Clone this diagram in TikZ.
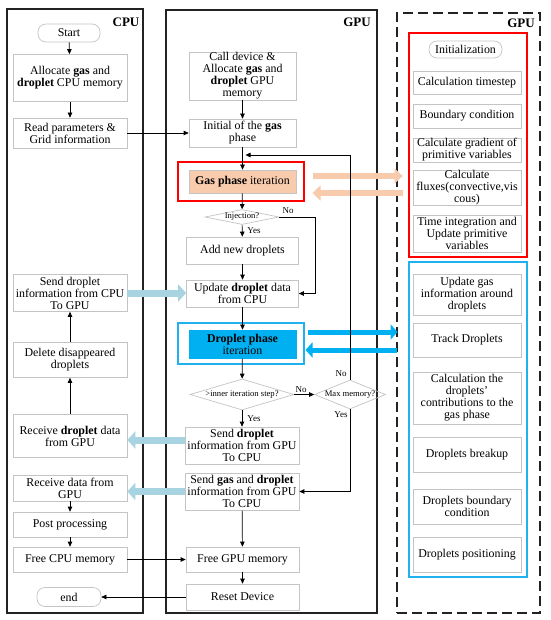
\documentclass[tikz,border=0pt]{standalone}
\usepackage{fontspec}
\setmainfont{Liberation Serif}
\usetikzlibrary{arrows.meta,shapes.geometric,calc}
\definecolor{bxgray}{HTML}{C4C4C4}
\definecolor{peach}{HTML}{F8CBAD}
\definecolor{dblue}{HTML}{00B0F0}
\definecolor{lblue}{HTML}{A8D4E2}
\definecolor{fblue}{HTML}{1FB2EE}
\definecolor{framec}{HTML}{222222}
\begin{document}
\begin{tikzpicture}[x=1pt,y=-1pt,
  bx/.style={draw=bxgray, line width=0.7pt, align=center, inner sep=0pt,
    font=\fontsize{11.9}{12}\selectfont},
  rbx/.style={bx, rounded corners=8pt},
  dia/.style={diamond, draw=bxgray, line width=0.7pt, inner sep=0pt,
    font=\fontsize{8.6}{9}\selectfont},
  frame/.style={draw=framec, line width=1.1pt, inner sep=0pt},
  hd/.style={font=\fontsize{13}{14}\selectfont\bfseries, inner sep=0pt},
  lbl/.style={font=\fontsize{9}{10}\selectfont, inner sep=0pt},
  ar/.style={line width=0.7pt, -{Triangle[length=5pt,width=4.5pt]}},
  lbar/.style={draw=lblue, line width=7pt, -{Triangle[length=8pt,width=17pt]}},
  pchar/.style={draw=peach, line width=5.5pt, -{Triangle[length=8pt,width=15pt]}},
  bluar/.style={draw=dblue, line width=5pt, -{Triangle[length=7pt,width=15pt]}}
]
\useasboundingbox[fill=white] (0,0) rectangle (550,620);

% outer frames
\node[frame, minimum width=136, minimum height=604] (cpuframe) at (75,311) {};
\node[frame, minimum width=211, minimum height=603] (gpuframe) at (271.5,311.5) {};
\node[frame, dash pattern=on 10pt off 5pt, line width=1.3pt, minimum width=143, minimum height=600] (dframe) at (468.5,313) {};
\node[hd] (cpuh) at (126,22) {CPU};
\node[hd] (gpuh) at (357,22) {GPU};
\node[hd] (gpuh2) at (521,23) {GPU};

% CPU column
\node[rbx, minimum width=62, minimum height=18] (start) at (69,33) {Start};
\node[bx, minimum width=114, minimum height=47] (cpuA) at (70,78) {Allocate \textbf{gas} and\\\textbf{droplet} CPU memory};
\node[bx, minimum width=114, minimum height=30] (cpuR) at (70,133) {Read parameters \&\\Grid information};
\node[bx, minimum width=114, minimum height=37] (cpuS) at (70,293) {Send droplet\\information from CPU\\To GPU};
\node[bx, minimum width=114, minimum height=35] (cpuD) at (70,360) {Delete disappeared\\droplets};
\node[bx, minimum width=114, minimum height=43] (cpuRv) at (70,436) {Receive \textbf{droplet} data\\from GPU};
\node[bx, minimum width=114, minimum height=26] (cpuRd) at (70,488) {Receive data from\\GPU};
\node[bx, minimum width=114, minimum height=25] (cpuP) at (70,524.5) {Post processing};
\node[bx, minimum width=114, minimum height=25] (cpuF) at (70,559.5) {Free CPU memory};
\node[rbx, minimum width=64, minimum height=19] (end) at (69,597) {end};

% GPU column
\node[bx, minimum width=107, minimum height=48] (gA) at (242.5,76) {Call device \&\\Allocate \textbf{gas} and\\\textbf{droplet} GPU\\memory};
\node[bx, minimum width=107, minimum height=28] (gI) at (242.5,133) {Initial of the \textbf{gas}\\phase};
\node[draw=red, line width=1.1pt, minimum width=126, minimum height=39, inner sep=0pt] (gasframe) at (241,181.5) {};
\node[bx, fill=peach, minimum width=107, minimum height=23] (gG) at (242.5,181.5) {\textbf{Gas phase} iteration};
\node[dia, aspect=4.9, minimum width=74, minimum height=15] (inj) at (242,217) {Injection?};
\node[bx, minimum width=112, minimum height=27] (gAdd) at (242.5,250.5) {Add new droplets};
\node[bx, minimum width=112, minimum height=27] (gU) at (242.5,293.5) {Update \textbf{droplet} data\\from CPU};
\node[draw=fblue, line width=1.1pt, minimum width=126, minimum height=41, inner sep=0pt] (dropframe) at (241,343.5) {};
\node[bx, fill=dblue, draw=dblue, minimum width=107, minimum height=28] (gD) at (242.5,344) {\textbf{Droplet phase}\\iteration};
\node[dia, aspect=3.35, minimum width=104, minimum height=31] (inner) at (242,394.5) {>inner iteration step?};
\node[dia, aspect=2.45, minimum width=71, minimum height=29] (maxm) at (350,394.5) {Max memory?};
\node[bx, minimum width=114, minimum height=37] (gSd) at (242,445.5) {Send \textbf{droplet}\\information from GPU\\To CPU};
\node[bx, minimum width=114, minimum height=37] (gSg) at (242,491.5) {Send \textbf{gas} and \textbf{droplet}\\information from GPU\\To CPU};
\node[bx, minimum width=113, minimum height=25] (gFree) at (242.5,559.5) {Free GPU memory};
\node[bx, minimum width=113, minimum height=26] (gReset) at (242.5,597) {Reset Device};

% right column
\node[draw=red, line width=1.1pt, minimum width=118, minimum height=224, inner sep=0pt] (redframe) at (468,145) {};
\node[draw=fblue, line width=1.1pt, minimum width=118, minimum height=315, inner sep=0pt] (blueframe) at (468,419.5) {};
\node[rbx, minimum width=73, minimum height=17] (r0) at (465.5,49.5) {Initialization};
\node[bx, minimum width=108, minimum height=23] (r1) at (467,82.5) {Calculation timestep};
\node[bx, minimum width=108, minimum height=24] (r2) at (467,116) {Boundary condition};
\node[bx, minimum width=108, minimum height=24] (r3) at (467,150) {Calculate gradient of\\primitive variables};
\node[bx, minimum width=108, minimum height=35] (r4) at (467,187.5) {Calculate\\fluxes(convective,vis\\cous)};
\node[bx, minimum width=108, minimum height=37] (r5) at (467,233.5) {Time integration and\\Update primitive\\variables};
\node[bx, minimum width=108, minimum height=41] (b1) at (467,294.5) {Update gas\\information around\\droplets};
\node[bx, minimum width=108, minimum height=34] (b2) at (467,340) {Track Droplets};
\node[bx, minimum width=108, minimum height=52] (b3) at (467,398) {Calculation the\\droplets’\\contributions to the\\gas phase};
\node[bx, minimum width=108, minimum height=35] (b4) at (467,454.5) {Droplets breakup};
\node[bx, minimum width=108, minimum height=35] (b5) at (467,506.5) {Droplets boundary\\condition};
\node[bx, minimum width=108, minimum height=35] (b6) at (467,554.5) {Droplets positioning};

% thick arrows
\draw[lbar] (cpuS.east) -- (cpuS.east -| gU.west);
\coordinate (t1) at ([yshift=5.5pt]gSd.west);
\draw[lbar] (t1) -- (t1 -| cpuRv.east);
\draw[lbar] (gSg.west) -- (gSg.west -| cpuRd.east);
\draw[pchar] ([xshift=8pt,yshift=5.5pt]gasframe.east) -- ++(90,0);
\draw[pchar] ([xshift=98pt,yshift=-11.5pt]gasframe.east) -- ++(-90,0);
\draw[bluar] ([xshift=3pt,yshift=11.5pt]dropframe.east) -- ++(90,0);
\draw[bluar] ([xshift=92pt,yshift=-6.5pt]dropframe.east) -- ++(-91,0);

% connectors
\draw[ar] (start) -- (cpuA);
\draw[ar] (cpuA) -- (cpuR);
\draw[ar] (cpuR) -- (gI);
\draw[ar] (cpuD) -- (cpuS);
\draw[ar] (cpuRv) -- (cpuD);
\draw[ar] (cpuRd) -- (cpuP);
\draw[ar] (cpuP) -- (cpuF);
\draw[ar] (cpuF) -- (gFree);
\draw[ar] (gReset) -- (end);
\draw[ar] (gA) -- (gI);
\draw[ar] (gI) -- (gG);
\draw[ar] (gG) -- (inj);
\draw[ar] (inj) -- (gAdd);
\draw[ar] (gAdd) -- (gU);
\draw[ar] (gU) -- (gD);
\draw[ar] (gD) -- (inner);
\draw[ar] (inner) -- (gSd);
\draw[ar] (inner) -- (maxm);
\draw[ar] (gSg) -- (gFree);
\draw[ar] (gFree) -- (gReset);
\coordinate (injc) at (315,217);
\draw[ar] (inj.east) -- (injc) |- (gU.east);
\coordinate (loopend) at (245.5,155);
\draw[ar] (maxm.north) |- (loopend);
\draw[ar] (maxm.south) |- (gSg.east);

% labels
\node[lbl] (l1) at (288,211) {No};
\node[lbl] (l2) at (254,231) {Yes};
\node[lbl] (l3) at (301,390) {No};
\node[lbl] (l4) at (341,374) {No};
\node[lbl] (l5) at (341,415) {Yes};
\node[lbl] (l6) at (254,419) {Yes};
\end{tikzpicture}
\end{document}
